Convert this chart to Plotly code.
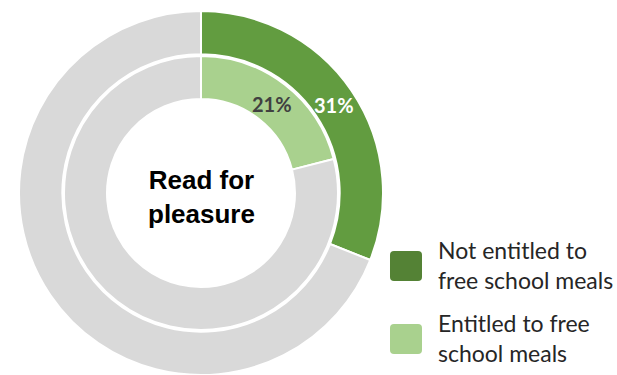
import math
import plotly.graph_objects as go

W, H = 617, 375

# Share of pupils who read for pleasure, by free school meal status
groups = ["Not entitled to free school meals", "Entitled to free school meals"]
legend_labels = ["Not entitled to<br>free school meals", "Entitled to free<br>school meals"]
read_pct = [31, 21]
ring_colors = ["#629C40", "#A9D18E"]
swatch_colors = ["#548235", "#A9D18E"]
label_colors = ["#FFFFFF", "#404040"]
rest_color = "#D9D9D9"
centre_title = "Read for<br>pleasure"

cx, cy = 201, 193          # ring centre in pixels
rings = [(182, 0.762), (137, 0.686)]   # outer radius, hole fraction (outer ring first)


def px_domain(r):
    return dict(x=[(cx - r) / W, (cx + r) / W],
                y=[(H - cy - r) / H, (H - cy + r) / H])


fig = go.Figure()
annotations = []
for i, (name, pct) in enumerate(zip(groups, read_pct)):
    r, hole = rings[i]
    fig.add_trace(go.Pie(
        labels=[name, "Other"],
        values=[pct, 100 - pct],
        textinfo="none",
        marker=dict(colors=[ring_colors[i], rest_color], line=dict(color="white", width=2)),
        hole=hole,
        sort=False,
        direction="clockwise",
        rotation=0,
        domain=px_domain(r),
        showlegend=False,
        hoverinfo="label+percent",
    ))
    # value label at the middle of the slice, halfway across the ring
    ang = math.radians(pct / 100 * 360 / 2)
    rm = r * (1 + hole) / 2
    lx = cx + rm * math.sin(ang)
    ly = cy - rm * math.cos(ang) + 2
    annotations.append(dict(
        text=f"{pct}%", x=lx / W, y=1 - ly / H, xref="paper", yref="paper",
        xanchor="center", yanchor="middle", showarrow=False,
        font=dict(family="Lato", size=20, color=label_colors[i], weight="bold"),
    ))

annotations.append(dict(
    text=centre_title, x=cx / W, y=1 - 197 / H, xref="paper", yref="paper",
    xanchor="center", yanchor="middle", showarrow=False,
    font=dict(family="Liberation Sans", size=26, color="#000000", weight="bold"),
))

# Legend drawn as rounded swatches with two-line labels
shapes = []
sw_x0, sw_x1 = 390, 422
sw_tops = [251, 324]
sw_h = 30
rad = 4
for top, color, label in zip(sw_tops, swatch_colors, legend_labels):
    x0, x1, y0, y1 = sw_x0, sw_x1, top, top + sw_h
    def P(x, y):
        return f"{x / W:.5f},{1 - y / H:.5f}"
    path = (f"M{P(x0 + rad, y0)} L{P(x1 - rad, y0)} Q{P(x1, y0)} {P(x1, y0 + rad)} "
            f"L{P(x1, y1 - rad)} Q{P(x1, y1)} {P(x1 - rad, y1)} "
            f"L{P(x0 + rad, y1)} Q{P(x0, y1)} {P(x0, y1 - rad)} "
            f"L{P(x0, y0 + rad)} Q{P(x0, y0)} {P(x0 + rad, y0)} Z")
    shapes.append(dict(type="path", path=path, xref="paper", yref="paper",
                       fillcolor=color, line=dict(width=0)))
    for j, line in enumerate(label.split("<br>")):
        annotations.append(dict(
            text=line, x=436 / W, y=1 - (top - 1 + j * 30) / H, xref="paper", yref="paper",
            xanchor="left", yanchor="middle", showarrow=False,
            font=dict(family="Lato", size=23, color="#262626"),
        ))

fig.update_layout(
    width=W, height=H,
    margin=dict(l=0, r=0, t=0, b=0),
    paper_bgcolor="white", plot_bgcolor="white",
    annotations=annotations, shapes=shapes,
)

fig.write_html("out.html")
